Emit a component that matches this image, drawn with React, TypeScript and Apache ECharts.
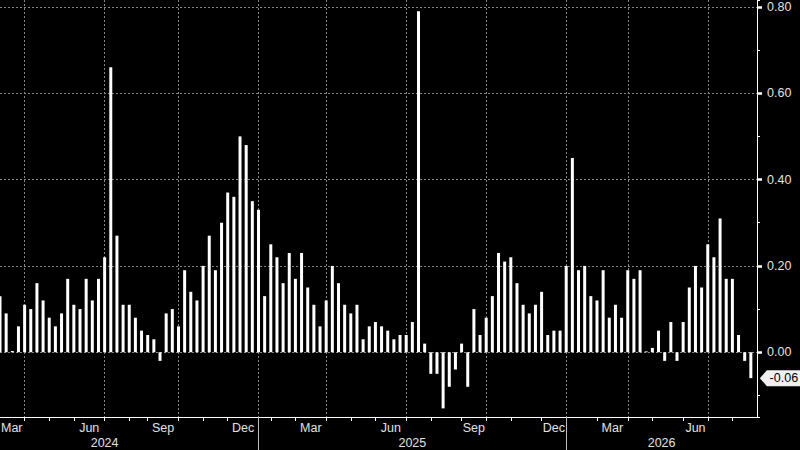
import React, { useEffect, useRef } from 'react';
import * as echarts from 'echarts';

const monthBars: [string, number][] = [
  ['2024-01', 3], ['2024-02', 4], ['2024-03', 5], ['2024-04', 4], ['2024-05', 4], ['2024-06', 5],
  ['2024-07', 4], ['2024-08', 3], ['2024-09', 5], ['2024-10', 4], ['2024-11', 4], ['2024-12', 5],
  ['2025-01', 2], ['2025-02', 4], ['2025-03', 5], ['2025-04', 4], ['2025-05', 4], ['2025-06', 5],
  ['2025-07', 4], ['2025-08', 5], ['2025-09', 4], ['2025-10', 4], ['2025-11', 5], ['2025-12', 4],
  ['2026-01', 5], ['2026-03', 5], ['2026-04', 4], ['2026-05', 5], ['2026-06', 4], ['2026-07', 4],
  ['2026-08', 5],
];

// first bar that is in view
const firstVisible = 8;

// Bar values, from the first visible bar to the last one
const values: number[] = [
  0.13, 0.09, 0.003, 0.06, 0.11, 0.10, 0.16, 0.12, 0.08, 0.06,
  0.09, 0.17, 0.11, 0.10, 0.17, 0.12, 0.17, 0.22, 0.66, 0.27,
  0.11, 0.11, 0.08, 0.05, 0.04, 0.03, -0.02, 0.09, 0.10, 0.06,
  0.19, 0.14, 0.12, 0.20, 0.27, 0.19, 0.30, 0.37, 0.36, 0.50,
  0.48, 0.35, 0.33, 0.13, 0.25, 0.22, 0.16, 0.23, 0.17, 0.23,
  0.15, 0.11, 0.06, 0.12, 0.20, 0.16, 0.11, 0.09, 0.11, 0.03,
  0.06, 0.07, 0.06, 0.05, 0.03, 0.04, 0.04, 0.07, 0.79, 0.02,
  -0.05, -0.05, -0.13, -0.08, -0.04, 0.02, -0.08, 0.10, 0.04, 0.08,
  0.13, 0.23, 0.21, 0.22, 0.16, 0.11, 0.09, 0.11, 0.14, 0.04,
  0.05, 0.05, 0.20, 0.45, 0.19, 0.20, 0.13, 0.12, 0.19, 0.08,
  0.11, 0.08, 0.19, 0.17, 0.19, 0.002, 0.01, 0.05, -0.02, 0.07,
  -0.02, 0.07, 0.15, 0.20, 0.15, 0.25, 0.22, 0.31, 0.17, 0.17,
  0.04, -0.02, -0.06,
];

const monthNames: Record<string, string> = { '03': 'Mar', '06': 'Jun', '09': 'Sep', '12': 'Dec' };
const quarterStartMonths = ['01', '04', '07', '10'];
const yMin = -0.15;
const yMax = 0.816;

// ---- derived structures ----
const categories: string[] = [];
const months: { key: string; start: number; end: number }[] = [];
{
  let idx = 0;
  for (const [m, n] of monthBars) {
    months.push({ key: m, start: idx, end: idx + n });
    for (let k = 1; k <= n; k++) categories.push(`${m} w${k}`);
    idx += n;
  }
}
const lastIndex = categories.length - 1;
const seriesData = categories.map((_, i) =>
  i < firstVisible ? null : i - firstVisible < values.length ? values[i - firstVisible] : null
);

const monthTickSet = new Set(months.map((m) => m.start));
const quarterSet = new Set(
  months.filter((m) => quarterStartMonths.includes(m.key.slice(5))).map((m) => m.start)
);
const yearStartSet = new Set(months.filter((m) => m.key.slice(5) === '01').map((m) => m.start));

const monthLabelMap = new Map<number, string>();
for (const m of months) {
  const name = monthNames[m.key.slice(5)];
  if (name) monthLabelMap.set(Math.round(m.start + m.end), name); // key = 2*center
}
const firstMonthLabelKey = Math.min(
  ...Array.from(monthLabelMap.keys()).filter((k) => k / 2 >= firstVisible)
);
const yearLabelMap = new Map<number, string>();
{
  const years = Array.from(new Set(months.map((m) => m.key.slice(0, 4))));
  years.forEach((y) => {
    const ms = months.filter((m) => m.key.startsWith(y));
    const s = ms[0].start;
    const e = Math.min(ms[ms.length - 1].end, lastIndex);
    yearLabelMap.set(Math.round(s + e), y);
  });
}

const lastValIdx = firstVisible + values.length - 1;
const lastVal = values[values.length - 1];

const FONT = 'Liberation Sans';
const LABEL_COLOR = '#e2e2e2';
const GRID_COLOR = '#858585';

const option: any = {
  animation: false,
  backgroundColor: '#000',
  textStyle: { fontFamily: FONT },
  grid: { left: 0, right: 43, top: 0, bottom: 33, containLabel: false, outerBoundsMode: 'none' },
  xAxis: [
    {
      type: 'category',
      data: categories,
      min: firstVisible,
      max: lastIndex,
      boundaryGap: false,
      position: 'bottom',
      axisLine: { show: true, onZero: false, lineStyle: { color: '#fff', width: 1 } },
      axisTick: { show: true, length: 4, interval: (i: number) => monthTickSet.has(i), lineStyle: { color: '#fff' } },
      axisLabel: { show: false },
      splitLine: {
        show: true,
        interval: (i: number) => quarterSet.has(i),
        lineStyle: { color: GRID_COLOR, type: [2, 2], width: 1 },
      },
    },
    {
      type: 'value',
      min: firstVisible,
      max: lastIndex,
      interval: 0.5,
      position: 'bottom',
      axisLine: { show: false, onZero: false },
      axisTick: { show: false },
      splitLine: { show: false },
      axisLabel: {
        show: true,
        margin: 4,
        color: LABEL_COLOR,
        fontSize: 12.5,
        fontFamily: FONT,
        showMinLabel: true,
        showMaxLabel: true,
        formatter: (v: number) => {
          const k = Math.round(v * 2);
          const name = monthLabelMap.get(k);
          if (!name) return '';
          return k === firstMonthLabelKey ? `{edge|${name}}` : name;
        },
        rich: {
          edge: { padding: [0, 0, 0, 5], color: LABEL_COLOR, fontSize: 12.5, fontFamily: FONT },
        },
      },
    },
    {
      type: 'value',
      min: firstVisible,
      max: lastIndex,
      interval: 0.5,
      position: 'bottom',
      offset: 15,
      axisLine: { show: false, onZero: false },
      axisTick: { show: false },
      splitLine: { show: false },
      axisLabel: {
        show: true,
        margin: 4,
        color: LABEL_COLOR,
        fontSize: 12.5,
        fontFamily: FONT,
        showMinLabel: true,
        showMaxLabel: true,
        formatter: (v: number) => yearLabelMap.get(Math.round(v * 2)) ?? '',
      },
    },
    {
      type: 'category',
      data: categories,
      min: firstVisible,
      max: lastIndex,
      boundaryGap: false,
      position: 'bottom',
      axisLine: { show: false, onZero: false },
      axisTick: { show: true, length: 34, interval: (i: number) => yearStartSet.has(i), lineStyle: { color: '#bdbdbd' } },
      axisLabel: { show: false },
      splitLine: { show: false },
    },
  ],
  yAxis: [
    {
      type: 'value',
      position: 'right',
      min: yMin,
      max: yMax,
      splitNumber: 5,
      axisLine: { show: true, onZero: false, lineStyle: { color: '#fff', width: 1 } },
      axisTick: { show: true, length: 5, lineStyle: { color: '#fff', width: 2.5 } },
      splitLine: {
        show: true,
        showMinLine: false,
        showMaxLine: false,
        lineStyle: { color: GRID_COLOR, type: [2, 2], width: 1 },
      },
      axisLabel: {
        show: true,
        margin: 10,
        color: LABEL_COLOR,
        fontSize: 12.5,
        fontFamily: FONT,
        showMinLabel: false,
        showMaxLabel: false,
        formatter: (v: number) => v.toFixed(2),
      },
    },
    {
      type: 'value',
      position: 'right',
      min: yMin,
      max: yMax,
      splitNumber: 10,
      axisLine: { show: false, onZero: false },
      axisTick: { show: true, length: 3, lineStyle: { color: '#fff', width: 1 } },
      splitLine: { show: false },
      axisLabel: { show: false },
    },
  ],
  series: [
    {
      type: 'bar',
      xAxisIndex: 0,
      yAxisIndex: 0,
      data: seriesData,
      barWidth: 3,
      itemStyle: { color: '#ffffff' },
      markPoint: {
        symbol: 'path://M0,8 L7,0 L42,0 L42,16 L7,16 Z',
        symbolSize: [42, 16],
        symbolKeepAspect: false,
        symbolOffset: [30, 0],
        itemStyle: { color: '#f0f0f0' },
        label: {
          show: true,
          position: 'inside',
          color: '#000',
          fontSize: 12.5,
          fontFamily: FONT,
          offset: [3, 0],
          formatter: (p: any) => Number(p.value).toFixed(2),
        },
        data: [{ coord: [categories[lastValIdx], lastVal], value: lastVal }],
      },
    },
  ],
};

export default function App() {
  const ref = useRef<HTMLDivElement>(null);
  useEffect(() => {
    if (!ref.current) return;
    const chart = echarts.init(ref.current, null, { renderer: 'svg' });
    chart.setOption(option);
    return () => chart.dispose();
  }, []);
  return (
    <div
      ref={ref}
      style={{ position: 'fixed', left: 0, top: 0, width: 800, height: 450, background: '#000' }}
    />
  );
}
